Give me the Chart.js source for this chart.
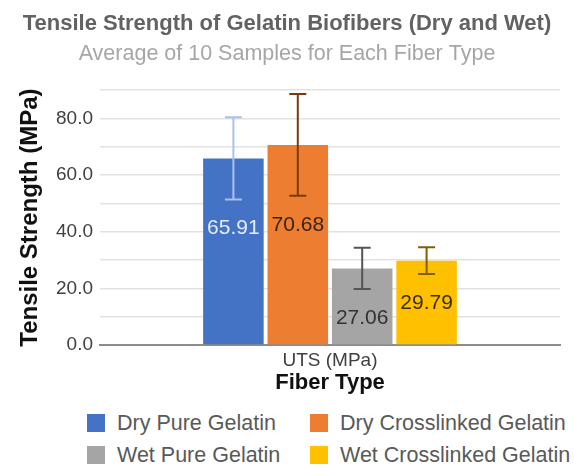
<!DOCTYPE html>
<html>
<head>
<meta charset="utf-8">
<style>
  html, body { margin: 0; padding: 0; background: #fff; }
  .chart-wrap {
    position: relative;
    width: 574px;
    height: 465px;
    font-family: "Liberation Sans", Arial, sans-serif;
  }
  #tensileChart { position: absolute; left: 0; top: 0; }
  .legend {
    position: absolute;
    left: 87px;
    top: 407px;
    display: grid;
    grid-template-columns: 223px auto;
  }
  .legend-item {
    display: flex;
    align-items: center;
    height: 32px;
    font-size: 21.5px;
    color: #595959;
    white-space: nowrap;
  }
  .legend-box { width: 18px; height: 18px; margin-right: 12px; }
</style>
</head>
<body>
<div class="chart-wrap">
  <canvas id="tensileChart" width="574" height="400"></canvas>
  <div class="legend" id="legend"></div>
</div>
<script src="https://cdn.jsdelivr.net/npm/chart.js@4.4.0/dist/chart.umd.min.js"></script>
<script>
  // chart data
  const categories = ["UTS (MPa)"];
  const seriesNames = ["Dry Pure Gelatin", "Dry Crosslinked Gelatin", "Wet Pure Gelatin", "Wet Crosslinked Gelatin"];
  const seriesValues = [65.91, 70.68, 27.06, 29.79];
  const seriesErrors = [14.5, 18.0, 7.3, 4.7];
  const yTickLabels = [0, 20, 40, 60, 80];
  const yMax = 90;

  // chart colors
  const barColors = ["#4472c4", "#ed7d31", "#a5a5a5", "#ffc000"];
  const errorColors = ["#a9c2ea", "#7a3a10", "#555555", "#7f6000"];
  const labelColors = ["#e4ecf8", "#3c2413", "#333333", "#3b2e00"];
  const chartFont = "'Liberation Sans', Arial, sans-serif";

  // error bars drawn through the y scale
  const errorBarPlugin = {
    id: "errorBars",
    afterDatasetsDraw(chart) {
      const ctx = chart.ctx;
      const yScale = chart.scales.y;
      chart.data.datasets.forEach((ds, i) => {
        chart.getDatasetMeta(i).data.forEach((bar, j) => {
          const v = ds.data[j];
          const e = ds.errorValues[j];
          const top = yScale.getPixelForValue(v + e);
          const bot = yScale.getPixelForValue(v - e);
          ctx.save();
          ctx.strokeStyle = errorColors[i];
          ctx.lineWidth = 2;
          ctx.beginPath();
          ctx.moveTo(bar.x, top);
          ctx.lineTo(bar.x, bot);
          ctx.moveTo(bar.x - 8.5, top);
          ctx.lineTo(bar.x + 8.5, top);
          ctx.moveTo(bar.x - 8.5, bot);
          ctx.lineTo(bar.x + 8.5, bot);
          ctx.stroke();
          ctx.restore();
        });
      });
    },
  };

  // value labels, placed a little under the error bar
  const valueLabelPlugin = {
    id: "valueLabels",
    afterDatasetsDraw(chart) {
      const ctx = chart.ctx;
      const yScale = chart.scales.y;
      chart.data.datasets.forEach((ds, i) => {
        chart.getDatasetMeta(i).data.forEach((bar, j) => {
          const v = ds.data[j];
          const y = yScale.getPixelForValue(v - ds.errorValues[j]) + 29;
          ctx.save();
          ctx.fillStyle = labelColors[i];
          ctx.font = "21px " + chartFont;
          ctx.textAlign = "center";
          ctx.textBaseline = "middle";
          ctx.fillText(v.toFixed(2), bar.x, y);
          ctx.restore();
        });
      });
    },
  };

  const datasets = seriesNames.map((name, i) => ({
    label: name,
    data: [seriesValues[i]],
    errorValues: [seriesErrors[i]],
    backgroundColor: barColors[i],
    borderWidth: 0,
    categoryPercentage: 0.56,
    barPercentage: 0.94,
  }));

  const chart = new Chart(document.getElementById("tensileChart"), {
    type: "bar",
    data: { labels: categories, datasets: datasets },
    options: {
      responsive: false,
      animation: false,
      layout: { padding: { left: 14, right: 14, top: 0, bottom: 2 } },
      plugins: {
        legend: { display: false },
        tooltip: { enabled: false },
        title: {
          display: true,
          text: "Tensile Strength of Gelatin Biofibers (Dry and Wet)",
          color: "#626262",
          font: { family: chartFont, size: 22, weight: "bold" },
          padding: { top: 11, bottom: 2 },
        },
        subtitle: {
          display: true,
          text: "Average of 10 Samples for Each Fiber Type",
          color: "#a6a6a6",
          font: { family: chartFont, size: 21.5 },
          padding: { top: 2, bottom: 23 },
        },
      },
      scales: {
        x: {
          grid: { display: false, drawTicks: false },
          border: { display: true, color: "#8c8c8c", width: 2 },
          ticks: {
            color: "#404040",
            font: { family: chartFont, size: 19 },
            padding: 4,
          },
          title: {
            display: true,
            text: "Fiber Type",
            color: "#111111",
            font: { family: chartFont, size: 22, weight: "bold" },
            padding: { top: 0, bottom: 2 },
          },
          afterFit(scale) { scale.height = 53; },
        },
        y: {
          min: 0,
          max: yMax,
          border: { display: false },
          grid: {
            color: "#e2e2e2",
            lineWidth: 1.5,
            drawTicks: false,
          },
          ticks: {
            stepSize: 10,
            padding: 7,
            color: "#404040",
            font: { family: chartFont, size: 19 },
            callback: (v) => (yTickLabels.includes(v) ? v.toFixed(1) : ""),
          },
          title: {
            display: true,
            text: "Tensile Strength (MPa)",
            color: "#111111",
            font: { family: chartFont, size: 24, weight: "bold" },
            padding: { top: 2, bottom: 0 },
          },
          afterFit(scale) { scale.width = 86; },
        },
      },
    },
    plugins: [errorBarPlugin, valueLabelPlugin],
  });

  // html legend in two columns
  const legendEl = document.getElementById("legend");
  chart.data.datasets.forEach((ds) => {
    const item = document.createElement("div");
    item.className = "legend-item";
    const box = document.createElement("span");
    box.className = "legend-box";
    box.style.background = ds.backgroundColor;
    item.appendChild(box);
    item.appendChild(document.createTextNode(ds.label));
    legendEl.appendChild(item);
  });
</script>
</body>
</html>
